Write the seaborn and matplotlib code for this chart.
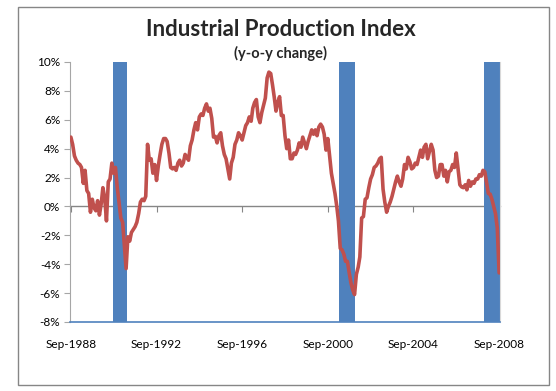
import seaborn as sns
import pandas as pd, numpy as np
import matplotlib.pyplot as plt
from matplotlib.patches import Rectangle
from matplotlib.ticker import FuncFormatter

# monthly y-o-y change (%), Sep-1988 .. Sep-2008
start_month = '1988-09'
ip_yoy = [
    4.8, 4.3, 3.5, 3.2,
    3.0, 2.9, 2.7, 1.6, 2.5, 1.1, 0.9, -0.4, 0.5, -0.1, -0.3, 0.4,
    -0.6, 0.2, 1.3, 0.6, -1.0, 1.7, 1.9, 3.0, 2.3, 2.7, 1.3, 0.3,
    -0.8, -1.1, -2.6, -4.3, -2.1, -2.4, -1.8, -1.6, -1.4, -1.1, -0.5, 0.3,
    0.5, 0.4, 0.7, 4.3, 3.2, 3.3, 2.3, 2.9, 1.8, 2.8, 3.6, 4.3,
    4.7, 4.7, 4.5, 3.7, 2.7, 2.6, 2.7, 2.5, 3.0, 3.2, 2.8, 3.0,
    3.6, 3.4, 3.2, 4.2, 4.6, 5.3, 5.8, 5.3, 6.2, 6.4, 6.3, 6.8,
    7.1, 6.6, 6.8, 6.1, 4.8, 4.85, 4.4, 4.9, 5.1, 4.2, 3.6, 3.3,
    2.6, 1.9, 3.0, 3.4, 4.3, 4.6, 5.1, 4.9, 4.6, 5.1, 5.6, 5.8,
    6.2, 5.9, 6.8, 7.2, 7.4, 6.2, 5.8, 6.5, 7.0, 7.5, 8.9, 9.3,
    9.2, 8.4, 7.6, 6.6, 7.2, 7.6, 6.3, 6.3, 4.9, 4.0, 4.6, 3.3,
    3.3, 3.7, 3.6, 3.9, 4.4, 4.1, 4.8, 4.4, 4.0, 4.5, 4.9, 5.3,
    5.0, 5.3, 4.9, 5.5, 5.7, 5.5, 5.0, 3.9, 4.7, 3.5, 2.3, 1.6,
    0.9, 0.0, -1.0, -2.9, -3.0, -3.3, -3.8, -3.8, -4.6, -5.3, -5.8, -6.1,
    -4.7, -4.2, -3.5, -0.8, -0.7, 0.5, 0.6, 1.3, 1.9, 2.2, 2.7, 2.8,
    3.0, 3.3, 3.4, 1.2, 0.3, -0.4, 0.0, 0.3, 0.7, 1.2, 1.7, 2.1,
    1.7, 1.4, 1.9, 2.9, 2.6, 3.4, 3.1, 2.6, 2.7, 3.0, 2.9, 3.4,
    3.9, 3.4, 4.1, 4.3, 3.3, 3.8, 4.3, 3.9, 2.5, 2.0, 2.1, 2.9,
    2.9, 2.1, 2.5, 1.7, 2.4, 2.5, 2.9, 2.7, 3.7, 2.6, 1.5, 1.35,
    1.3, 1.5, 1.15, 1.8, 1.4, 1.7, 1.6, 1.9, 1.9, 2.2, 2.1, 2.5,
    2.4, 1.6, 0.9, 0.85, 0.5, 0.0, -0.5, -1.5, -4.6,
]

# recession shading (first and last shaded month)
recession_start = ['1990-09', '2001-04', '2008-01']
recession_end = ['1991-04', '2001-12', '2008-09']

tick_years = [1988, 1992, 1996, 2000, 2004, 2008]
y_ticks = [-8, -6, -4, -2, 0, 2, 4, 6, 8, 10]

months = pd.date_range(start_month, periods=len(ip_yoy), freq='MS')
df = pd.DataFrame({'month': months, 'yoy': ip_yoy})
half = pd.Timedelta(days=15)

sns.set_style('white')
plt.rcParams['font.family'] = ['Lato', 'DejaVu Sans']

fig = plt.figure(figsize=(5.56, 3.91), dpi=100)
ax = fig.add_axes([70 / 556, 1 - 322 / 391, 430 / 556, 260 / 391])

# recession bars
for s, e in zip(recession_start, recession_end):
    ax.axvspan(pd.Timestamp(s) - half, pd.Timestamp(e) + half,
               color='#4F81BD', lw=0, zorder=1)

sns.lineplot(data=df, x='month', y='yoy', color='#C0504D',
             linewidth=2.6, ax=ax, zorder=3)

ax.set_ylim(-8, 10)
ax.set_yticks(y_ticks)
ax.yaxis.set_major_formatter(FuncFormatter(lambda v, p: f'{v:.0f}%'))
ax.set_xlim(months[0] - half, months[-1] + half)

tick_dates = [pd.Timestamp(f'{y}-09-01') for y in tick_years]
ax.set_xticks(tick_dates)
ax.set_xticklabels([d.strftime('%b-%Y') for d in tick_dates])
ax.set_xlabel('')
ax.set_ylabel('')

ax.spines['top'].set_visible(False)
ax.spines['right'].set_color('#D9D9D9')
ax.spines['left'].set_color('#A6A6A6')
ax.spines['bottom'].set_color('#4F81BD')
ax.spines['bottom'].set_linewidth(1.2)
ax.tick_params(axis='x', length=0, pad=12, labelsize=8.5, colors='black')
ax.tick_params(axis='y', length=4, width=0.8, color='#A6A6A6',
               labelsize=8.5, pad=3, left=True, labelcolor='black')

# zero line with the date tick marks
zero_ax = ax.secondary_xaxis(8 / 18)
zero_ax.set_xticks([ax.convert_xunits(d) for d in tick_dates])
zero_ax.tick_params(length=4, width=0.8, color='#868686', direction='out',
                    labelbottom=False, labeltop=False)
for sp in zero_ax.spines.values():
    sp.set_color('#868686')
    sp.set_linewidth(1)

# chart border and titles
fig.patches.append(Rectangle((18 / 556, 1 - 385 / 391), 531 / 556, 378 / 391,
                             transform=fig.transFigure, fill=False,
                             edgecolor='#868686', lw=1))
fig.text(0.505, 1 - 30 / 391, 'Industrial Production Index', ha='center',
         va='center', fontsize=16, fontweight='bold')
fig.text(0.505, 1 - 53 / 391, '(y-o-y change)', ha='center', va='center',
         fontsize=10.5, fontweight='bold')

fig.savefig('out.png', dpi=100)
